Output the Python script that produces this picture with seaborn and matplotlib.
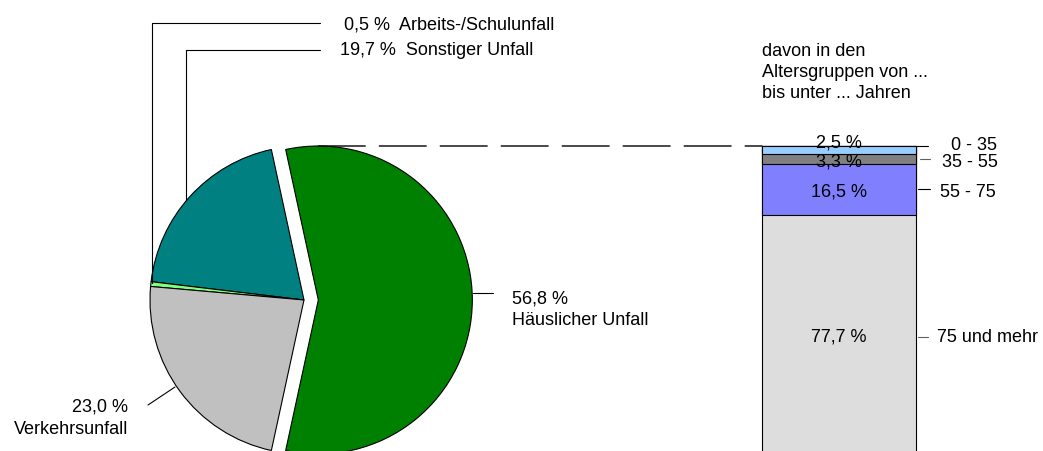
import matplotlib
matplotlib.use("Agg")
import matplotlib.pyplot as plt
from matplotlib.patches import ConnectionPatch
import seaborn as sns
import pandas as pd
import numpy as np

# ---------------- data ----------------
pie_labels = ["Häuslicher Unfall", "Sonstiger Unfall", "Arbeits-/Schulunfall", "Verkehrsunfall"]
pie_values = [56.8, 19.7, 0.5, 23.0]
pie_colors = ["#008000", "#008080", "#80FF80", "#C0C0C0"]

age_groups = ["0 - 35", "35 - 55", "55 - 75", "75 und mehr"]
age_values = [2.5, 3.3, 16.5, 77.7]
age_colors = ["#99CCFF", "#808080", "#8080FF", "#DDDDDD"]

age_title = "davon in den\nAltersgruppen von ...\nbis unter ... Jahren"

def fmt(v):
    return f"{v:.1f}".replace(".", ",") + " %"

# ---------------- style ----------------
sns.set_theme(style="white")
plt.rcParams["font.family"] = ["Liberation Sans", "DejaVu Sans"]
FS = 13

W, H = 1043, 451
fig = plt.figure(figsize=(W / 100, H / 100), dpi=100)
fig.patch.set_facecolor("white")

def px_axes(left, top, width, height):
    """axes rect from pixel box (top measured from figure top)."""
    return fig.add_axes([left / W, (H - top - height) / H, width / W, height / H])

# ---------------- pie ----------------
R = 154
cx, cy = 304, 300
ax_pie = px_axes(cx - 1.5 * R, cy - 1.5 * R, 3 * R, 3 * R)
start = -pie_values[0] / 100 * 360 / 2
ax_pie.pie(pie_values, colors=pie_colors, startangle=start, counterclock=True,
           explode=[0.093, 0, 0, 0],
           wedgeprops=dict(edgecolor="black", linewidth=0.8))
ax_pie.set_xlim(-1.5, 1.5)
ax_pie.set_ylim(-1.5, 1.5)
ax_pie.set_aspect("equal")
ax_pie.axis("off")

# ---------------- stacked bar ----------------
bar_left, bar_top, bar_w, bar_h = 762, 146, 154, 310
ax_bar = px_axes(bar_left, bar_top, bar_w, bar_h)
cum = np.cumsum(age_values)
df = pd.DataFrame({"grp": ["Alter"] * len(age_values), "cum": cum, "col": age_colors})
# draw largest cumulative first so that smaller segments overlay it
for i in range(len(age_values) - 1, -1, -1):
    sns.barplot(data=df.iloc[[i]], x="grp", y="cum", color=df["col"].iloc[i],
                saturation=1, width=1.0, edgecolor="black", linewidth=0.8, ax=ax_bar)
for p in ax_bar.patches:
    p.set_clip_on(False)
ax_bar.set_xlim(-0.5, 0.5)
ax_bar.set_ylim(100, 0)
ax_bar.axis("off")

# dashed connector from top of green wedge to top of bar
con = ConnectionPatch(xyA=(0.093, 1.0), coordsA=ax_pie.transData,
                      xyB=(-0.5, 0.0), coordsB=ax_bar.transData,
                      color="black", linewidth=1.0, linestyle=(0, (33.8, 10.1)))
fig.add_artist(con)

# ---------------- overlay for leader lines and labels ----------------
ov = fig.add_axes([0, 0, 1, 1], zorder=5)
ov.set_xlim(0, W)
ov.set_ylim(H, 0)
ov.axis("off")
ov.patch.set_alpha(0)
lk = dict(color="black", linewidth=0.8)

# pie leaders
ov.plot([152, 152, 320], [283, 23, 23], **lk)
ov.plot([186, 186, 320], [200, 50, 50], **lk)
ov.plot([473, 493], [293, 293], **lk)
ov.plot([148, 175], [405, 387], **lk)

tk = dict(fontsize=FS, color="black", va="baseline")
ov.text(344, 30, f"{fmt(pie_values[2])}  {pie_labels[2]}", ha="left", **tk)
ov.text(340, 55, f"{fmt(pie_values[1])}  {pie_labels[1]}", ha="left", **tk)
ov.text(512, 303, fmt(pie_values[0]), ha="left", **tk)
ov.text(512, 325, pie_labels[0], ha="left", **tk)
ov.text(128, 412, fmt(pie_values[3]), ha="right", **tk)
ov.text(128, 434, pie_labels[3], ha="right", **tk)

# bar title
for t, yb in zip(age_title.split("\n"), [56, 77, 98]):
    ov.text(762, yb, t, ha="left", **tk)

# bar value labels
for v, yb in zip(age_values, [147, 166.5, 196.5, 342]):
    ov.text(839, yb, fmt(v), ha="center", **tk)

# right ticks and group labels
ov.plot([916, 928], [146, 146], **lk)
ov.plot([920, 930], [159, 159], color="#606060", linewidth=0.8)
ov.plot([918, 930], [189, 189], **lk)
ov.plot([918, 928], [337, 337], color="#606060", linewidth=0.8)
for g, x, yb in zip(age_groups, [951, 942, 940, 937], [150, 167, 197, 342]):
    ov.text(x, yb, g, ha="left", **tk)

fig.savefig("out.png", dpi=100, facecolor="white")
